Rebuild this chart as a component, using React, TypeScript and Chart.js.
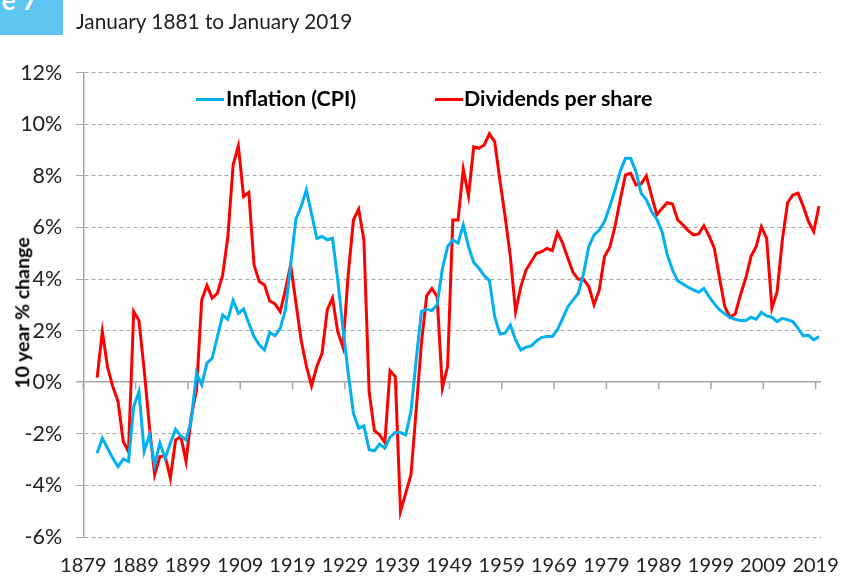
import React, { useEffect, useRef } from "react";
import { Chart, registerables } from "chart.js";

Chart.register(...registerables);

// ---- Data (10-year % change, annual readings Jan 1881 .. Jan 2019) ----
const FIRST_YEAR = 1881;

const inflation: number[] = [
  -2.75, -2.17, -2.56, -2.95, -3.27, -2.98, -3.07, -0.94, -0.36, -2.69, // 1881-1890
  -2.04, -3.2, -2.36, -2.95, -2.36, -1.82, -2.08, -2.24, -1.46, 0.35, // 1891-1900
  -0.1, 0.74, 0.93, 1.77, 2.61, 2.44, 3.17, 2.67, 2.84, 2.29, // 1901-1910
  1.77, 1.45, 1.25, 1.93, 1.8, 2.09, 2.8, 4.55, 6.32, 6.81, // 1911-1920
  7.45, 6.52, 5.58, 5.65, 5.52, 5.58, 3.97, 2.09, 0.35, -1.2, // 1921-1930
  -1.78, -1.69, -2.62, -2.66, -2.4, -2.56, -2.13, -1.95, -1.95, -2.04, // 1931-1940
  -1.14, 0.87, 2.74, 2.83, 2.78, 3.0, 4.4, 5.26, 5.52, 5.39, // 1941-1950
  6.1, 5.26, 4.64, 4.42, 4.13, 3.94, 2.55, 1.87, 1.9, 2.22, // 1951-1960
  1.64, 1.25, 1.36, 1.41, 1.6, 1.74, 1.77, 1.77, 2.03, 2.48, // 1961-1970
  2.93, 3.19, 3.45, 4.22, 5.26, 5.71, 5.9, 6.23, 6.81, 7.45, // 1971-1980
  8.17, 8.68, 8.68, 8.17, 7.33, 7.07, 6.62, 6.32, 5.84, 4.94, // 1981-1990
  4.35, 3.93, 3.81, 3.68, 3.58, 3.49, 3.64, 3.32, 3.04, 2.8, // 1991-2000
  2.65, 2.51, 2.44, 2.39, 2.39, 2.52, 2.44, 2.71, 2.57, 2.52, // 2001-2010
  2.35, 2.48, 2.42, 2.35, 2.09, 1.8, 1.82, 1.64, 1.77, // 2011-2019
];

const dividends: number[] = [
  0.18, 1.96, 0.58, -0.17, -0.75, -2.3, -2.69, 2.74, 2.39, 0.48, // 1881-1890
  -1.72, -3.59, -2.88, -2.86, -3.72, -2.24, -2.11, -3.07, -1.33, -0.3, // 1891-1900
  3.19, 3.75, 3.26, 3.45, 4.16, 5.65, 8.42, 9.16, 7.2, 7.36, // 1901-1910
  4.55, 3.9, 3.77, 3.15, 3.04, 2.74, 3.58, 4.55, 3.09, 1.64, // 1911-1920
  0.63, -0.14, 0.61, 1.12, 2.8, 3.26, 1.96, 1.36, 4.16, 6.29, // 1921-1930
  6.71, 5.52, -0.36, -1.87, -2.04, -2.34, 0.45, 0.22, -5.01, -4.3, // 1931-1940
  -3.59, -1.07, 1.51, 3.35, 3.64, 3.32, -0.23, 0.61, 6.29, 6.29, // 1941-1950
  8.26, 7.22, 9.13, 9.07, 9.2, 9.63, 9.33, 7.84, 6.42, 4.87, // 1951-1960
  2.74, 3.71, 4.35, 4.68, 5.0, 5.06, 5.19, 5.1, 5.8, 5.39, // 1961-1970
  4.81, 4.25, 3.99, 3.99, 3.71, 3.0, 3.58, 4.87, 5.23, 6.03, // 1971-1980
  7.07, 8.04, 8.1, 7.65, 7.69, 8.0, 7.22, 6.49, 6.74, 6.96, // 1981-1990
  6.91, 6.29, 6.1, 5.88, 5.71, 5.75, 6.07, 5.67, 5.19, 4.03, // 1991-2000
  2.93, 2.52, 2.65, 3.39, 4.03, 4.87, 5.26, 6.03, 5.58, 2.87, // 2001-2010
  3.51, 5.52, 6.96, 7.26, 7.33, 6.81, 6.23, 5.84, 6.83, // 2011-2019
];

const years: number[] = inflation.map((_, i) => FIRST_YEAR + i);

const xTickLabels: number[] = [
  1879, 1889, 1899, 1909, 1919, 1929, 1939, 1949, 1959, 1969, 1979, 1989, 1999, 2009, 2019,
];

const seriesNames = ["Inflation (CPI)", "Dividends per share"];
const subtitle = "January 1881 to January 2019";
const yAxisTitle = "10 year % change";
const figureLabel = "Figure 7";

// ---- Styling / layout ----
const BLUE = "#00B0F0";
const RED = "#FF0000";
const GRID = "#A6A6A6";
const TEXT = "#222222";
const FONT = "Lato, 'Open Sans', sans-serif";
const LABEL_SHIFT = 0.64; // axis label ticks sit slightly before the January readings
const X_MIN = 1878.36;
const X_MAX = 2019.39;

const zeroAxisTicks = {
  id: "zeroAxisTicks",
  beforeDatasetsDraw(chart: any) {
    const { ctx, scales } = chart;
    const x = scales.x;
    const y = scales.y;
    const y0 = y.getPixelForValue(0);
    ctx.save();
    ctx.strokeStyle = GRID;
    ctx.lineWidth = 1.5;
    ctx.beginPath();
    for (const t of x.ticks) {
      const px = x.getPixelForValue(t.value);
      ctx.moveTo(px, y0);
      ctx.lineTo(px, y0 + 7);
    }
    ctx.stroke();
    ctx.restore();
  },
};

function ChartCanvas() {
  const ref = useRef<HTMLCanvasElement | null>(null);
  useEffect(() => {
    if (!ref.current) return;
    const chart = new Chart(ref.current, {
      type: "line",
      data: {
        datasets: [
          {
            label: seriesNames[0],
            data: years.map((yr, i) => ({ x: yr, y: inflation[i] })),
            borderColor: BLUE,
            backgroundColor: BLUE,
            borderWidth: 3,
            pointRadius: 0,
            tension: 0,
            fill: false,
          },
          {
            label: seriesNames[1],
            data: years.map((yr, i) => ({ x: yr, y: dividends[i] })),
            borderColor: RED,
            backgroundColor: RED,
            borderWidth: 3,
            pointRadius: 0,
            tension: 0,
            fill: false,
          },
        ],
      },
      options: {
        animation: false,
        responsive: false,
        maintainAspectRatio: false,
        layout: { padding: { top: 72.7, right: 24, bottom: 0, left: 0 } },
        plugins: {
          legend: { display: false },
          tooltip: { enabled: false },
        },
        scales: {
          x: {
            type: "linear",
            min: X_MIN,
            max: X_MAX,
            grid: { display: false, drawTicks: false },
            border: { display: false },
            afterBuildTicks: (s: any) => {
              s.ticks = xTickLabels.map((v) => ({ value: v - LABEL_SHIFT }));
            },
            afterFit: (s: any) => {
              s.height = 39;
            },
            ticks: {
              autoSkip: false,
              maxRotation: 0,
              minRotation: 0,
              padding: 17,
              color: TEXT,
              font: { family: FONT, size: 20 },
              callback: (_v: any, i: number) => String(xTickLabels[i]),
            },
          },
          y: {
            min: -6,
            max: 12,
            afterFit: (s: any) => {
              s.width = 83.3;
            },
            ticks: {
              stepSize: 2,
              padding: 14,
              color: TEXT,
              font: { family: FONT, size: 21.5 },
              callback: (v: any) => `${v}%`,
            },
            grid: {
              color: GRID,
              lineWidth: (c: any) => (c.tick && c.tick.value === 0 ? 1.5 : 1),
              tickLength: 7,
              tickColor: GRID,
              tickBorderDash: [],
            },
            border: {
              display: true,
              color: GRID,
              width: 1.5,
              dash: (c: any) => (c.tick && c.tick.value === 0 ? [] : [4, 3]),
            },
          },
        },
      },
      plugins: [zeroAxisTicks],
    } as any);
    return () => chart.destroy();
  }, []);
  return <canvas ref={ref} width={856} height={576} style={{ width: 856, height: 576, display: "block" }} />;
}

export default function App() {
  return (
    <div
      style={{
        position: "fixed",
        left: 0,
        top: 0,
        width: 856,
        height: 576,
        background: "#ffffff",
        overflow: "hidden",
        fontFamily: FONT,
      }}
    >
      <ChartCanvas />
      {/* figure badge */}
      <div
        style={{
          position: "absolute",
          left: 0,
          top: 0,
          width: 63,
          height: 35,
          background: "#5EC4F1",
          overflow: "hidden",
        }}
      >
        <span
          style={{
            position: "absolute",
            right: 26,
            top: -13,
            color: "#ffffff",
            fontWeight: 700,
            fontSize: 26,
            lineHeight: 1,
            whiteSpace: "nowrap",
          }}
        >
          {figureLabel}
        </span>
      </div>
      <div
        style={{
          position: "absolute",
          left: 76,
          top: 11,
          fontSize: 20.8,
          lineHeight: 1,
          color: TEXT,
          whiteSpace: "nowrap",
        }}
      >
        {subtitle}
      </div>
      {/* y axis title */}
      <div
        style={{
          position: "absolute",
          left: 21.5,
          top: 313,
          transform: "translate(-50%, -50%) rotate(-90deg)",
          fontSize: 19.5,
          fontWeight: 700,
          lineHeight: 1,
          color: "#000",
          whiteSpace: "nowrap",
        }}
      >
        {yAxisTitle}
      </div>
      {/* legend */}
      <div style={{ position: "absolute", left: 196, top: 97.5, width: 28, height: 3, background: BLUE }} />
      <div
        style={{
          position: "absolute",
          left: 226,
          top: 88,
          fontSize: 21.4,
          fontWeight: 700,
          lineHeight: 1,
          color: "#000",
          whiteSpace: "nowrap",
        }}
      >
        {seriesNames[0]}
      </div>
      <div style={{ position: "absolute", left: 435, top: 97.5, width: 28, height: 3, background: RED }} />
      <div
        style={{
          position: "absolute",
          left: 464,
          top: 88,
          fontSize: 21.4,
          fontWeight: 700,
          lineHeight: 1,
          color: "#000",
          whiteSpace: "nowrap",
        }}
      >
        {seriesNames[1]}
      </div>
    </div>
  );
}
